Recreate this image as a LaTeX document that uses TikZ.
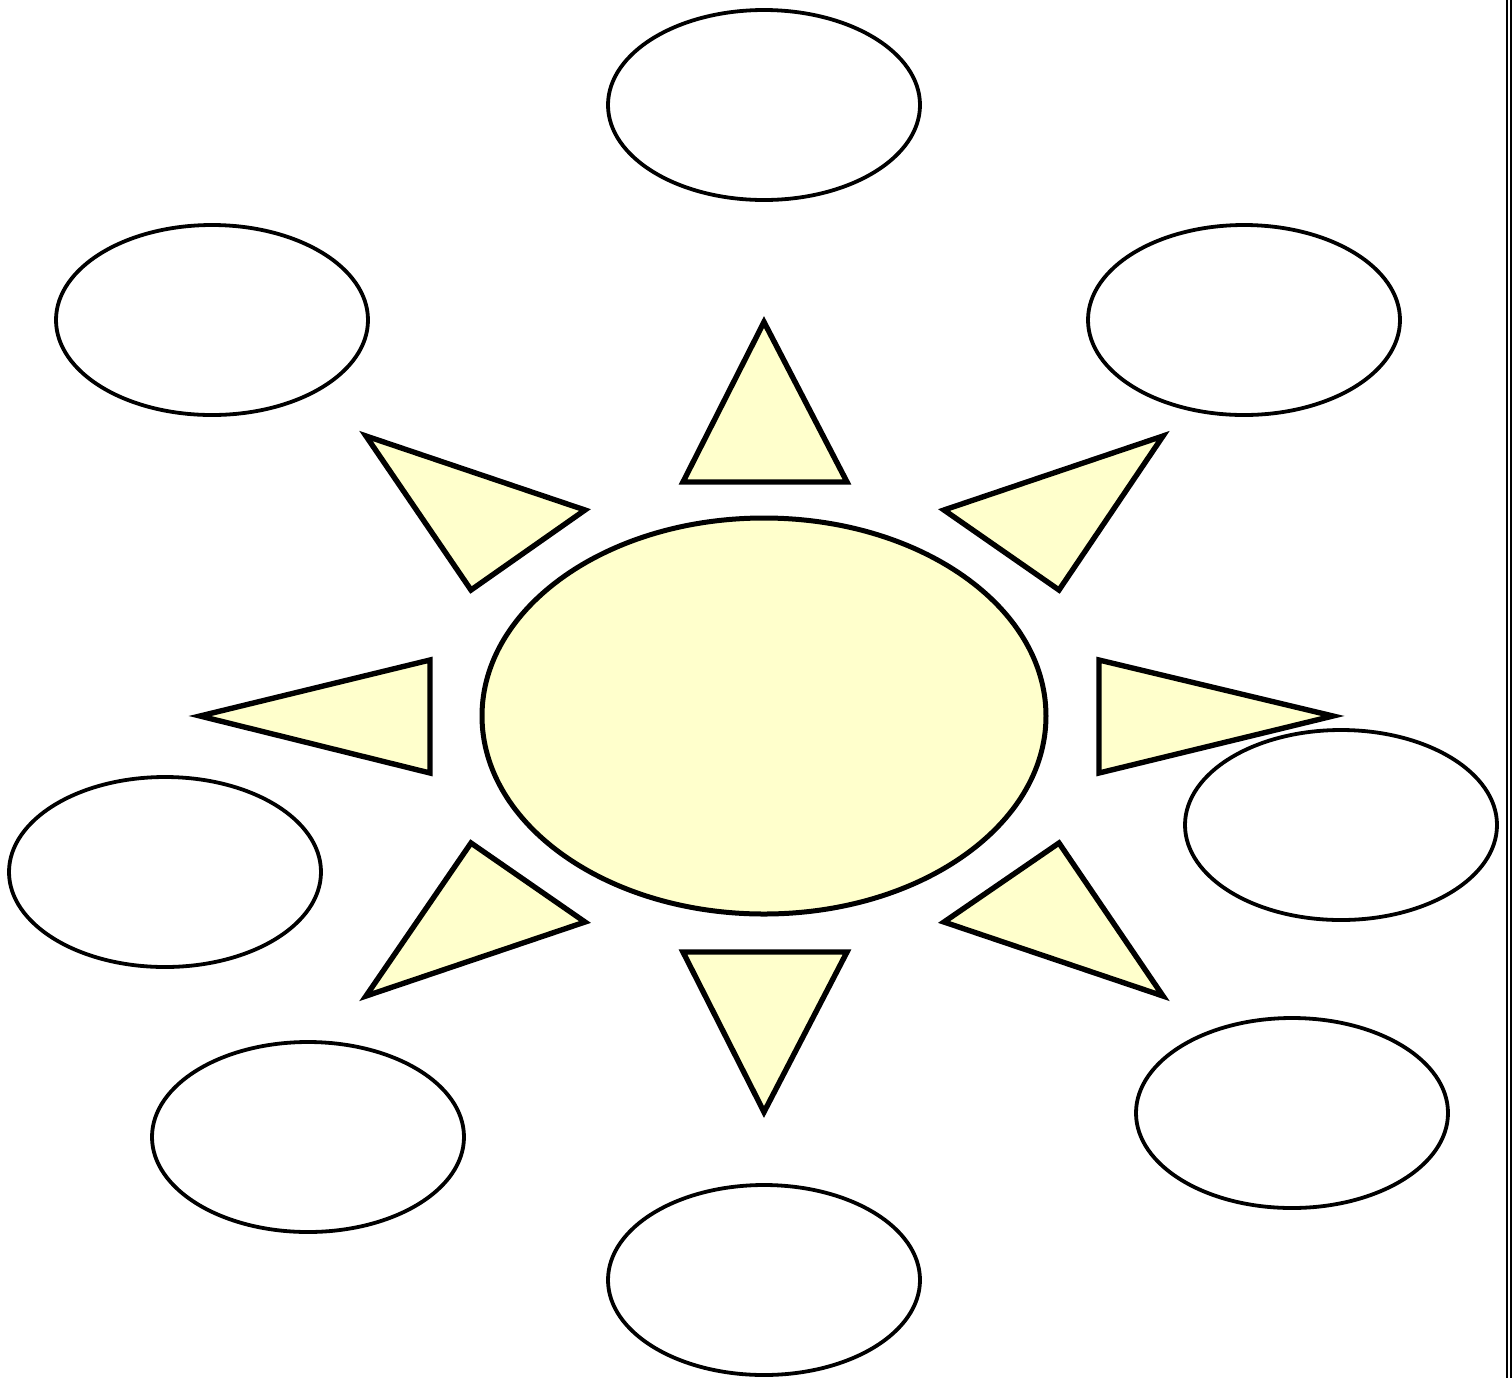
\documentclass[tikz,border=0pt]{standalone}
\usetikzlibrary{shapes.geometric}
\definecolor{sunfill}{HTML}{FFFFCC}
\begin{document}
\begin{tikzpicture}[x=0.5pt,y=-0.5pt,
  bubble/.style={draw=black,fill=white,ellipse,line width=1.9pt,inner sep=0pt,minimum width=156pt,minimum height=95pt},
  core/.style={draw=black,fill=sunfill,ellipse,line width=2.5pt,inner sep=0pt,minimum width=282pt,minimum height=198pt},
  ray/.style={draw=black,fill=sunfill,line width=2.7pt,line join=miter}]
\useasboundingbox (0,0) rectangle (1512,1378);
\fill[white] (0,0) rectangle (1512,1378);
% outer bubbles
\node[bubble] (top) at (764,105) {};
\node[bubble] (ul) at (212,320) {};
\node[bubble] (ur) at (1244,320) {};
\node[bubble] (r) at (1341,825) {};
\node[bubble] (l) at (165,872) {};
\node[bubble] (ll) at (308,1137) {};
\node[bubble] (lr) at (1292,1113) {};
\node[bubble] (bot) at (764,1280) {};
% centre
\node[core] (sun) at (764,716) {};
% rays
\draw[ray] (764,322) -- (683,482) -- (847,482) -- cycle;
\draw[ray] (366,436) -- (585,510) -- (471,590) -- cycle;
\draw[ray] (1163,436) -- (944,510) -- (1059,590) -- cycle;
\draw[ray] (200,716) -- (430,660) -- (430,773) -- cycle;
\draw[ray] (1333,716) -- (1099,660) -- (1099,773) -- cycle;
\draw[ray] (366,996) -- (585,922) -- (471,843) -- cycle;
\draw[ray] (1163,996) -- (944,922) -- (1059,843) -- cycle;
\draw[ray] (764,1112) -- (683,952) -- (847,952) -- cycle;
% right border double line
\draw[line width=1.1pt] (1507,0) -- (1507,1378);
\draw[line width=1.1pt] (1510.6,0) -- (1510.6,1378);
\end{tikzpicture}
\end{document}
